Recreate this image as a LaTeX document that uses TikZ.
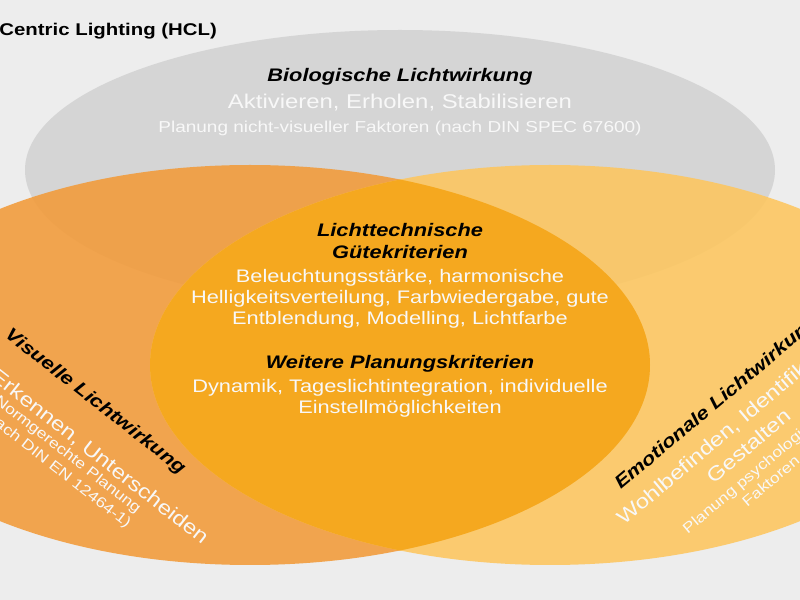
\documentclass[tikz,border=0pt]{standalone}
\usepackage{fontspec}
\setmainfont{Liberation Sans}[FakeStretch=1.2]
\definecolor{bggray}{HTML}{EDEDED}
\definecolor{biogray}{HTML}{D5D5D5}
\definecolor{visorange}{HTML}{F29A38}
\definecolor{emoyellow}{HTML}{FDC65E}
\definecolor{coreorange}{HTML}{F5A81F}
\definecolor{softwhite}{HTML}{F8F8F8}
\tikzset{
  head/.style={font=\fontsize{15.5}{18}\selectfont\bfseries\itshape, text=black},
  sub/.style={font=\fontsize{17}{21}\selectfont, text=softwhite},
  small/.style={font=\fontsize{13.5}{16}\selectfont, text=softwhite, align=center},
  list/.style={font=\fontsize{15.5}{18}\selectfont, text=softwhite, align=center},
}
\begin{document}
\begin{tikzpicture}[x=0.03cm,y=-0.03cm]
\useasboundingbox (0,0) rectangle (800,600);
\fill[bggray] (0,0) rectangle (800,600);
% circles
\fill[biogray] (400,170) ellipse [x radius=375, y radius=140];
\fill[visorange, opacity=0.88] (250,365) ellipse [x radius=400, y radius=200];
\fill[emoyellow, opacity=0.88] (550,365) ellipse [x radius=400, y radius=200];
\begin{scope}
  \clip (250,365) ellipse [x radius=400, y radius=200];
  \fill[coreorange] (550,365) ellipse [x radius=400, y radius=200];
\end{scope}
% title
\node[anchor=east, font=\fontsize{14.5}{16}\selectfont\bfseries] (title) at (221,31) {Human Centric Lighting (HCL)};
% biologisch
\node[head] (bio) at (400,77) {Biologische Lichtwirkung};
\node[sub] (biosub) at (400,103) {Aktivieren, Erholen, Stabilisieren};
\node[small] (bioplan) at (400,128) {Planung nicht-visueller Faktoren (nach DIN SPEC 67600)};
% core
\node[head, align=center] (lt) at (400,241) {Lichttechnische\\Gütekriterien};
\node[list] (ltlist) at (400,299) {Beleuchtungsstärke, harmonische\\Helligkeitsverteilung, Farbwiedergabe, gute\\Entblendung, Modelling, Lichtfarbe};
\node[head] (weitere) at (400,364) {Weitere Planungskriterien};
\node[list] (wlist) at (400,398) {Dynamik, Tageslichtintegration, individuelle\\Einstellmöglichkeiten};
% visuell
\node[head, rotate=-38] (vis) at (95,402) {Visuelle Lichtwirkung};
\node[sub, rotate=-38] (vissub) at (67,432) {Sehen, Erkennen, Unterscheiden};
\node[small, rotate=-38, font=\fontsize{12.5}{15}\selectfont] (visplan) at (62,462) {Normgerechte Planung\\(nach DIN EN 12464-1)};
% emotional
\node[head, rotate=40] (emo) at (717,403) {Emotionale Lichtwirkung};
\node[sub, rotate=40, align=center, font=\fontsize{17}{22}\selectfont] (emosub) at (740,436) {Wohlbefinden, Identifikation\\Gestalten};
\node[small, rotate=40, font=\fontsize{12.5}{15}\selectfont] (emoplan) at (765,474) {Planung psychologischer\\Faktoren};
\end{tikzpicture}
\end{document}
